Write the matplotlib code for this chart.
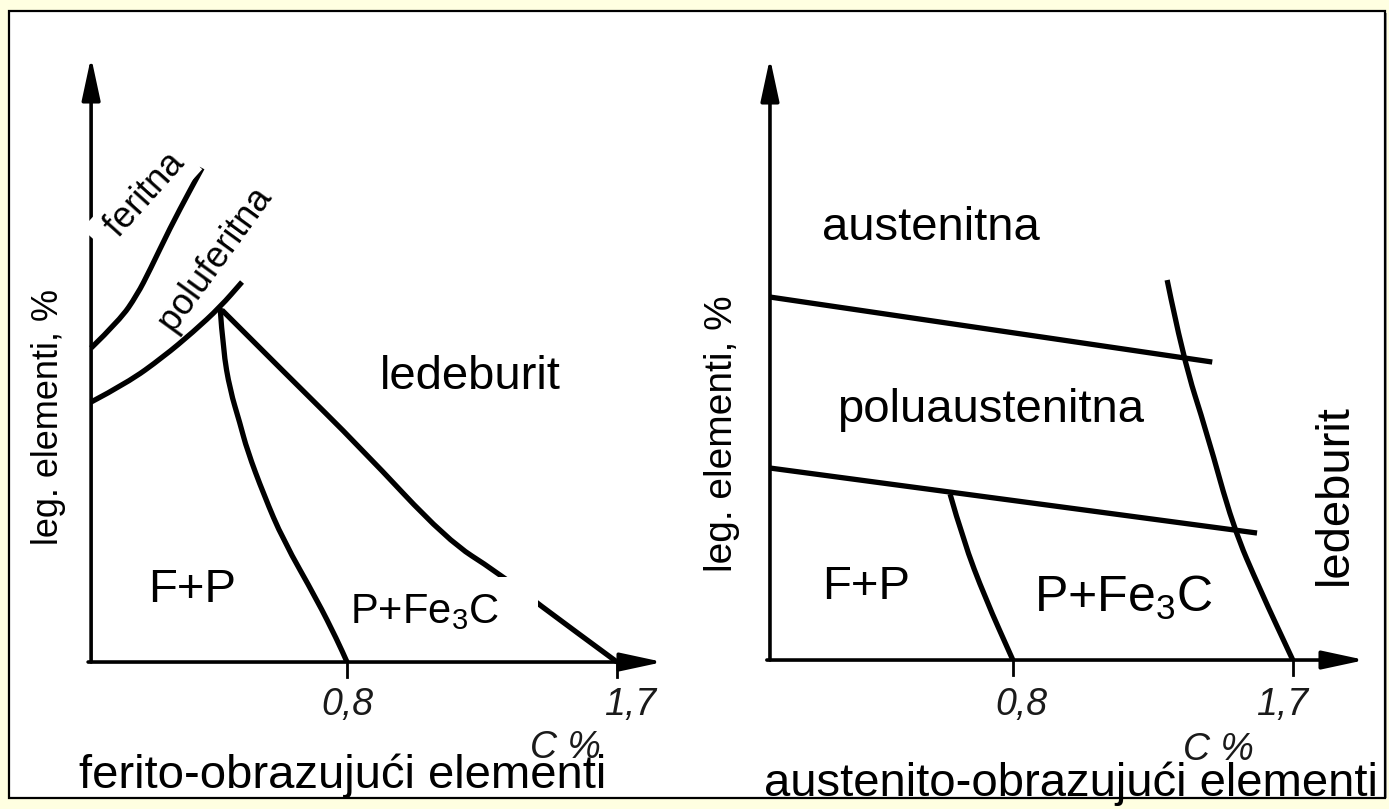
import matplotlib.pyplot as plt
from matplotlib.patches import Rectangle, PathPatch
from matplotlib.path import Path

plt.rcParams["font.family"] = ["Liberation Sans", "DejaVu Sans"]
plt.rcParams["mathtext.fontset"] = "custom"
plt.rcParams["mathtext.rm"] = "Liberation Sans"
plt.rcParams["mathtext.it"] = "Liberation Sans:italic"

# schematic values: x = C %, y = leg. elementi (arbitrary units)
TICKS = [0.8, 1.7]
TICK_LABELS = ["0,8", "1,7"]

# left diagram: ferito-obrazujuci elementi
L_YAXIS_C = -0.053
L_XAXIS_END = 1.853
L_YAXIS_END = 12.1
L_TICK_LABEL_C = [0.80, 1.743]
FER_C = [-0.053, 0.043, 0.100, 0.143, 0.210, 0.277, 0.317]
FER_L = [6.28, 6.84, 7.34, 7.84, 8.68, 9.44, 9.88]
POLUFER_C = [-0.053, 0.067, 0.187, 0.287, 0.377, 0.450]
POLUFER_L = [5.20, 5.58, 6.10, 6.60, 7.10, 7.60]
EUT_C = [0.377, 0.387, 0.410, 0.443, 0.467, 0.523, 0.587, 0.700, 0.767, 0.80]
EUT_L = [7.08, 6.24, 5.44, 4.78, 4.24, 3.34, 2.44, 1.24, 0.44, 0.0]
LED_C = [0.383, 0.610, 0.843, 1.133, 1.300, 1.433, 1.70]
LED_L = [7.04, 5.68, 4.30, 2.44, 1.80, 1.18, 0.0]

# right diagram: austenito-obrazujuci elementi
R_YAXIS_C = 0.019
R_XAXIS_END = 1.932
R_YAXIS_END = 12.04
R_TICK_LABEL_C = [0.829, 1.665]
AUST_C = [0.019, 1.441]
AUST_L = [7.26, 5.96]
POLUAUST_C = [0.019, 1.585]
POLUAUST_L = [3.84, 2.54]
LEDR_C = [1.296, 1.347, 1.424, 1.508, 1.595, 1.70]
LEDR_L = [7.60, 6.04, 4.54, 2.66, 1.40, 0.0]
EUTR_C = [0.598, 0.640, 0.711, 0.80]
EUTR_L = [3.32, 2.40, 1.24, 0.0]

LW = 3.8


def curve(ax, xs, ys, zorder=2):
    # smooth curve through the read points (quadratic segments between midpoints)
    pts = list(zip(xs, ys))
    verts, codes = [pts[0]], [Path.MOVETO]
    for i in range(1, len(pts) - 1):
        mid = ((pts[i][0] + pts[i + 1][0]) / 2, (pts[i][1] + pts[i + 1][1]) / 2)
        verts += [pts[i], mid]
        codes += [Path.CURVE3, Path.CURVE3]
    verts.append(pts[-1])
    codes.append(Path.LINETO)
    ax.add_patch(PathPatch(Path(verts, codes), fill=False, edgecolor="black",
                           lw=LW, capstyle="butt", joinstyle="round", zorder=zorder))


def draw_axes(ax, c0, x_end, y_end, tick_y, label_c):
    arrow = dict(arrowstyle="-|>,head_length=1.3,head_width=0.28",
                 lw=2.6, color="black", shrinkA=0, shrinkB=0, mutation_scale=20)
    ax.annotate("", xy=(c0, y_end), xytext=(c0, 0), arrowprops=arrow, zorder=2)
    ax.annotate("", xy=(x_end, 0), xytext=(c0 - 0.01, 0), arrowprops=arrow)
    for t, lc, lab in zip(TICKS, label_c, TICK_LABELS):
        ax.plot([t, t], [0, -0.3], color="black", lw=2)
        ax.text(lc, tick_y, lab, ha="center", va="center", fontsize=27,
                style="italic", color="#1a1a1a")


fig = plt.figure(figsize=(13.89, 8.09), dpi=100, facecolor="#FFFFE1")
fig.patches.append(Rectangle((11 / 1389, 11 / 809), 1376 / 1389, 785 / 809,
                             transform=fig.transFigure, facecolor="#9a9a9a",
                             edgecolor="none", zorder=-6))
fig.patches.append(Rectangle((9 / 1389, 11 / 809), 1376 / 1389, 787 / 809,
                             transform=fig.transFigure, facecolor="white",
                             edgecolor="black", lw=1.6, zorder=-5))

ax1 = fig.add_axes([0.0432, 0.1347, 0.4608, 0.8158])
ax1.set_xlim(-0.15667, 1.97667)
ax1.set_ylim(-0.76, 12.44)
ax1.axis("off")
draw_axes(ax1, L_YAXIS_C, L_XAXIS_END, L_YAXIS_END, -0.86, L_TICK_LABEL_C)
curve(ax1, FER_C, FER_L)
curve(ax1, POLUFER_C, POLUFER_L, zorder=5)
curve(ax1, LED_C, LED_L, zorder=2.7)
curve(ax1, EUT_C, EUT_L, zorder=5)

ax1.text(0.117, 9.26, " feritna", rotation=48, ha="center", va="center",
         fontsize=26, zorder=3, rotation_mode="anchor",
         bbox=dict(boxstyle="square,pad=0.2", facecolor="white", edgecolor="none"))
ax1.text(0.335, 7.80, "   poluferitna", rotation=54, ha="center", va="center",
         fontsize=26, zorder=2.5, rotation_mode="anchor",
         bbox=dict(boxstyle="square,pad=0.45", facecolor="white", edgecolor="none"))
ax1.text(1.21, 5.70, "ledeburit", ha="center", va="center", fontsize=34)
ax1.text(0.283, 1.44, "F+P", ha="center", va="center", fontsize=34)
ax1.text(0.81, 0.78, "P+Fe$_3$C   ", ha="left", va="baseline", fontsize=30,
         zorder=3, bbox=dict(boxstyle="square,pad=0.35", facecolor="white",
                             edgecolor="none"))
ax1.text(1.527, -1.72, "C %", ha="center", va="center", fontsize=27,
         style="italic", color="#1a1a1a")

ax2 = fig.add_axes([0.5184, 0.1347, 0.4752, 0.8158])
ax2.set_xlim(-0.14148, 1.98071)
ax2.set_ylim(-0.8, 12.4)
ax2.axis("off")
draw_axes(ax2, R_YAXIS_C, R_XAXIS_END, R_YAXIS_END, -0.9, R_TICK_LABEL_C)
curve(ax2, AUST_C, AUST_L)
curve(ax2, POLUAUST_C, POLUAUST_L)
curve(ax2, LEDR_C, LEDR_L)
curve(ax2, EUTR_C, EUTR_L)

ax2.text(0.537, 8.64, "austenitna", ha="center", va="center", fontsize=34)
ax2.text(0.727, 5.0, "poluaustenitna", ha="center", va="center", fontsize=34)
ax2.text(0.328, 1.46, "F+P", ha="center", va="center", fontsize=34)
ax2.text(0.868, 0.96, "P+Fe$_3$C ", ha="left", va="baseline", fontsize=36,
         zorder=3, bbox=dict(boxstyle="square,pad=0.3", facecolor="white",
                             edgecolor="none"))
ax2.text(1.836, 3.30, "ledeburit", rotation=90, ha="center", va="center",
         fontsize=34)
ax2.text(1.46, -1.8, "C %", ha="center", va="center", fontsize=27,
         style="italic", color="#1a1a1a")

fig.text(0.0346, 0.4846, "leg. elementi, %", rotation=90, ha="center",
         va="center", fontsize=26)
fig.text(0.5198, 0.4635, "leg. elementi, %", rotation=90, ha="center",
         va="center", fontsize=28)
fig.text(343 / 1389, 21 / 809, "ferito-obrazujući elementi", ha="center",
         va="baseline", fontsize=34)
fig.text(1071 / 1389, 13 / 809, "austenito-obrazujući elementi", ha="center",
         va="baseline", fontsize=34)

fig.savefig("out.png", dpi=100, facecolor=fig.get_facecolor())
